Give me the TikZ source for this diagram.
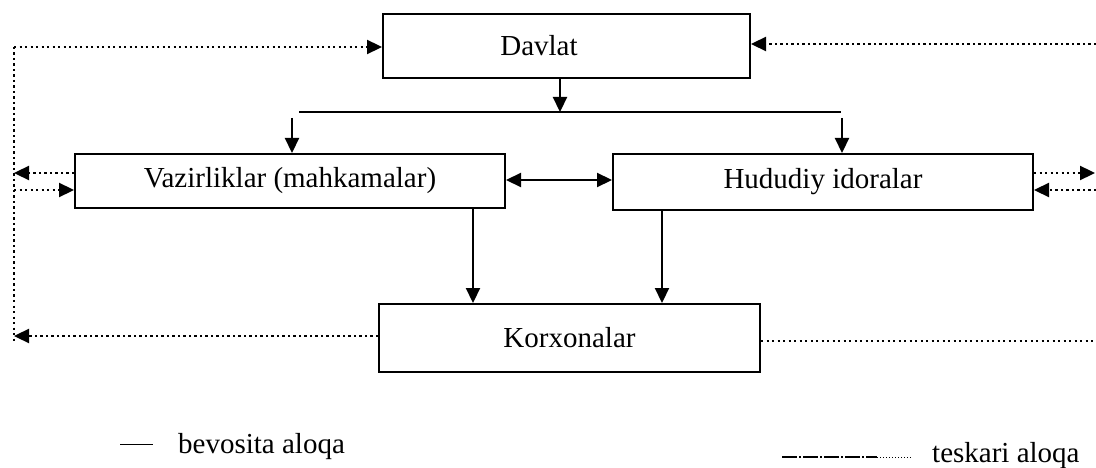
\documentclass[tikz,border=0pt]{standalone}
\usepackage{fontspec}
\setmainfont{Liberation Serif}
\usetikzlibrary{arrows.meta}

\begin{document}
\begin{tikzpicture}[x=1pt,y=1pt,
		blok/.style={draw=black,line width=2pt},
		matn/.style={font=\fontsize{29}{34}\selectfont},
		pil/.style={line width=2.2pt,-{Triangle[length=15pt,width=14pt]}},
		ikkipil/.style={line width=2.2pt,{Triangle[length=15pt,width=14pt]}-{Triangle[length=15pt,width=14pt]}},
		nuqta/.style={line width=2.3pt,dash pattern=on 2.3pt off 3.2pt},
		nuqtapil/.style={nuqta,-{Triangle[length=15pt,width=14pt]}}]
		\tikzstyle{every node}+=[inner sep=0pt]
		\useasboundingbox (0,0) rectangle (1096,-468);
		\node [blok,minimum width=367pt,minimum height=64pt] (davlat) at (566.5,-46) {};
		\node [matn] (davlatmatn) at (539,-46) {Davlat};
		\node [blok,matn,minimum width=430pt,minimum height=54pt] (vazir) at (290,-181) {Vazirliklar (mahkamalar)};
		\node [blok,matn,minimum width=420pt,minimum height=56pt] (hudud) at (823,-182) {Hududiy idoralar};
		\node [blok,matn,minimum width=381pt,minimum height=68pt] (korxona) at (569.5,-338) {Korxonalar};
		\coordinate (tarmoq) at (560,-112);
		\coordinate (tarmoqchap) at (299,-112);
		\coordinate (tarmoqong) at (841,-112);
		\coordinate (chappil) at (292,-118);
		\coordinate (ongpil) at (842,-118);
		\draw [pil] (davlat.south -| tarmoq) -- (tarmoq);
		\draw [line width=2.2pt] (tarmoqchap) -- (tarmoqong);
		\draw [pil] (chappil) -- (vazir.north -| chappil);
		\draw [pil] (ongpil) -- (hudud.north -| ongpil);
		\coordinate (orta) at (560,-180);
		\draw [ikkipil] (vazir.east |- orta) -- (hudud.west |- orta);
		\coordinate (vk) at (473,-300);
		\coordinate (hk) at (662,-300);
		\draw [pil] (vazir.south -| vk) -- (korxona.north -| vk);
		\draw [pil] (hudud.south -| hk) -- (korxona.north -| hk);
		\coordinate (chap1) at (14,-47);
		\coordinate (chap2) at (14,-173);
		\coordinate (chap3) at (14,-190);
		\coordinate (chap4) at (14,-336);
		\coordinate (chap5) at (14,-343);
		\draw [nuqta] (chap1) -- (chap5);
		\draw [nuqtapil] (chap1) -- (davlat.west |- chap1);
		\draw [nuqtapil] (vazir.west |- chap2) -- (chap2);
		\draw [nuqtapil] (chap3) -- (vazir.west |- chap3);
		\draw [nuqtapil] (korxona.west |- chap4) -- (chap4);
		\coordinate (ong1) at (1096,-44);
		\coordinate (ong2) at (1095,-173);
		\coordinate (ong3) at (1096,-190);
		\coordinate (ong4) at (1096,-341);
		\draw [nuqtapil] (ong1) -- (davlat.east |- ong1);
		\draw [nuqtapil] (hudud.east |- ong2) -- (ong2);
		\draw [nuqtapil] (ong3) -- (hudud.east |- ong3);
		\draw [nuqta] (korxona.east |- ong4) -- (ong4);
		\node [matn,anchor=base west] (bevosita) at (178,-453) {bevosita aloqa};
		\coordinate (b1) at (120,-444);
		\coordinate (b2) at (153,-444);
		\draw [line width=1pt] (b1) -- (b2);
		\node [matn,anchor=base west] (teskari) at (932,-462) {teskari aloqa};
		\coordinate (t1) at (782,-457);
		\coordinate (t2) at (877,-457);
		\coordinate (t3) at (912,-457);
		\draw [line width=1.6pt,dash pattern=on 15pt off 2pt on 2pt off 2pt] (t1) -- (t2);
		\draw [line width=1pt,dash pattern=on 1pt off 2pt] (t2) -- (t3);
	\end{tikzpicture}
\end{document}
